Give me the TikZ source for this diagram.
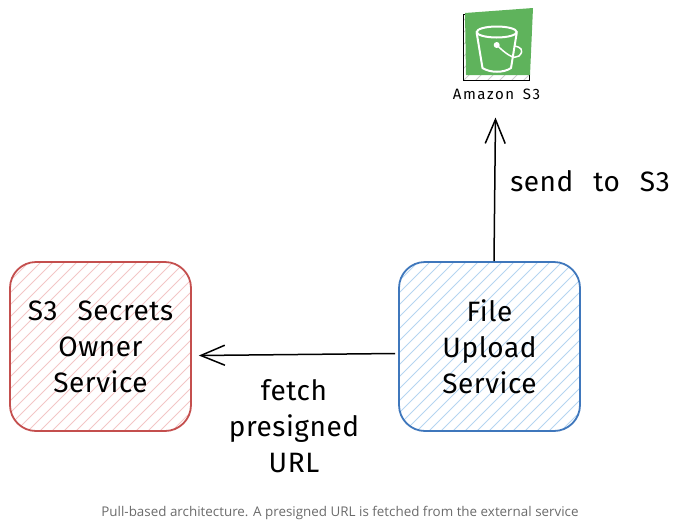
\documentclass[tikz,border=0pt]{standalone}
\usepackage{fontspec}
\setmainfont{Fira Sans}
\newfontfamily\handfont[LetterSpace=2,WordSpace=2.5]{Fira Sans}
\newfontfamily\iconfont[LetterSpace=10,WordSpace=1.6]{Fira Sans}
\newfontfamily\capfont{Open Sans}
\usetikzlibrary{arrows.meta}
\usetikzlibrary{positioning}
\definecolor{boxred}{HTML}{C44F4E}
\definecolor{boxblue}{HTML}{3F77BC}
\definecolor{hatchred}{HTML}{F3C6C6}
\definecolor{hatchblue}{HTML}{B5D5F0}
\definecolor{s3green}{HTML}{5FB35C}
\definecolor{capgray}{HTML}{6B6B6B}
\tikzset{
 hachure/.style={path picture={
  \foreach \i in {-192,-180,...,192}
   \draw [#1,line width=1pt] ([xshift=\i pt]path picture bounding box.center) ++(-130pt,-130pt) -- ++(260pt,260pt);
 }},
 service/.style={draw,rectangle,rounded corners=26pt,line width=1.8pt,minimum width=181pt,minimum height=169pt,align=center,inner sep=0pt,
  font=\handfont\fontsize{28}{36}\selectfont},
 note/.style={align=center,inner sep=0pt,font=\handfont\fontsize{28}{36}\selectfont},
 bucketline/.style={white,line width=2pt},
 flow/.style={->,line width=1.5pt,>={Straight Barb[length=24pt,width=20pt]}}
}
\begin{document}
\begin{tikzpicture}[x=1pt,y=-1pt]
 \useasboundingbox (0,0) rectangle (680,523);
 \node [service,draw=boxred,hachure=hatchred] (secrets) at (100.5,346.5) {S3 Secrets\\Owner\\Service};
 \node [service,draw=boxblue,hachure=hatchblue,right=206.2pt of secrets] (upload) {File\\Upload\\Service};
 % s3 icon
 \node [draw=black,line width=1.2pt,minimum size=66pt,inner sep=0pt,hachure=gray!40] (bucket) at (496.5,47.5) {};
 \fill [s3green] (465,13) -- (533,8) -- (530,75) -- (466,75) -- cycle;
 \draw [bucketline] (496.7,32) ellipse (20 and 5.5);
 \draw [bucketline] (476.7,33) -- (482.5,68) .. controls (490,73) and (504,73) .. (511,68) -- (516.7,33);
 \fill [white] (496.7,45) circle (3pt);
 \draw [bucketline,line width=1.5pt] (496.7,45) .. controls (506,54) and (514,60) .. (519,56) .. controls (525,50) and (520,47) .. (515,46);
 \node [inner sep=0pt,font=\iconfont\fontsize{15}{16}\selectfont] (amazon) at (496.5,94) {Amazon S3};
 % labels
 \node [note] (send) at (590,181) {send to S3};
 \node [note] (fetch) at (294,426) {fetch\\presigned\\URL};
 \node [inner sep=0pt,text=capgray,font=\capfont\fontsize{13.4}{16}\selectfont] (caption) at (340,513) {Pull-based architecture. A presigned URL is fetched from the external service};
 % connectors
 \draw [flow] ([yshift=-7pt,xshift=-3pt]upload.west) -- ([yshift=-9pt,xshift=7pt]secrets.east);
 \draw [flow] ([xshift=4.5pt]upload.north) -- ([yshift=-18pt,xshift=-1pt]amazon.south);
\end{tikzpicture}
\end{document}
